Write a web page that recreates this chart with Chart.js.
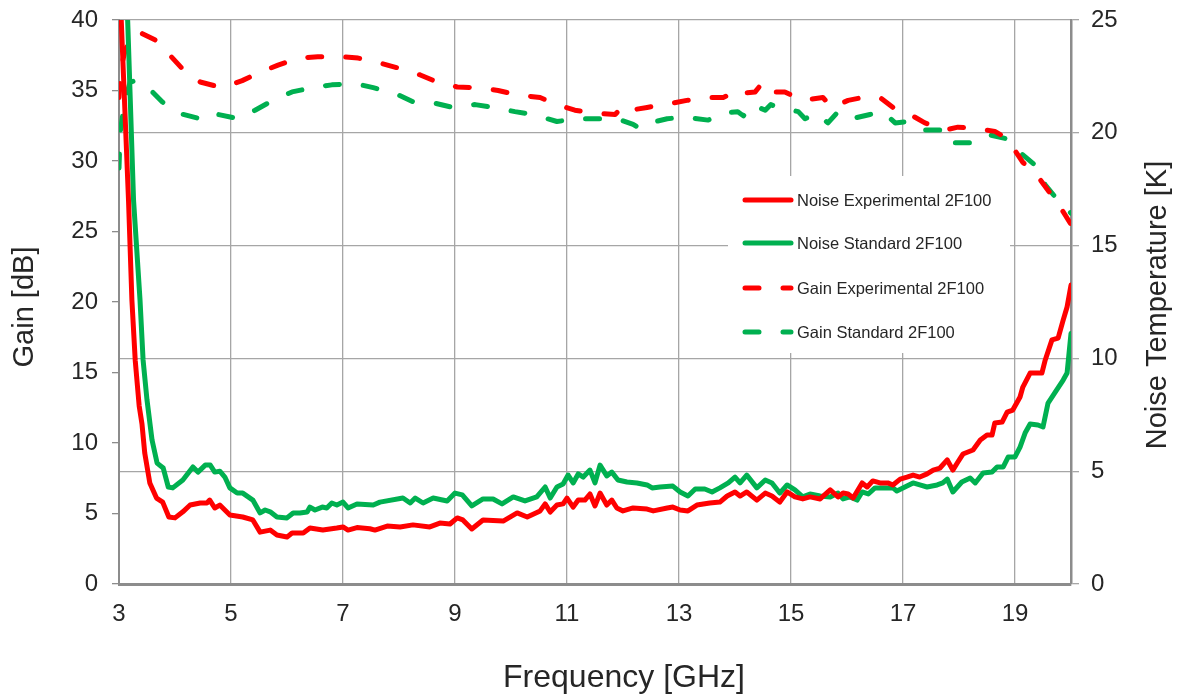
<!DOCTYPE html>
<html lang="en">
<head>
<meta charset="UTF-8">
<title>Gain / Noise Temperature 2F100</title>
<style>
  html, body { margin: 0; padding: 0; background: #fff; }
  #wrap { width: 1179px; height: 696px; }
</style>
</head>
<body>
<div id="wrap"><canvas id="ampChart" width="1179" height="696"></canvas></div>
<script src="https://cdn.jsdelivr.net/npm/chart.js"></script>
<script>
// axis ticks
var freqTicks = [3, 5, 7, 9, 11, 13, 15, 17, 19];
var gainTicks = [0, 5, 10, 15, 20, 25, 30, 35, 40];
var noiseTicks = [0, 5, 10, 15, 20, 25];

var xTitle = 'Frequency [GHz]';
var gainTitle = 'Gain [dB]';
var noiseTitle = 'Noise Temperature [K]';

// Noise Experimental 2F100 [K]
var noiseExpFreq = [3.0, 3.04, 3.17, 3.23, 3.29, 3.36, 3.41, 3.46, 3.55, 3.67,
  3.78, 3.89, 4.0, 4.14, 4.27, 4.45, 4.57, 4.62, 4.71, 4.8,
  4.98, 5.21, 5.39, 5.52, 5.70, 5.82, 6.0, 6.09, 6.29, 6.41,
  6.64, 6.89, 7.0, 7.09, 7.25, 7.48, 7.57, 7.79, 8.02, 8.25,
  8.55, 8.73, 8.91, 9.04, 9.14, 9.30, 9.50, 9.86, 10.11, 10.29,
  10.52, 10.61, 10.70, 10.82, 10.93, 11.0, 11.11, 11.20, 11.32, 11.41,
  11.5, 11.59, 11.71, 11.80, 11.89, 12.0, 12.18, 12.43, 12.54, 12.79,
  12.89, 13.02, 13.16, 13.32, 13.55, 13.73, 13.86, 14.0, 14.09, 14.21,
  14.39, 14.54, 14.66, 14.80, 14.93, 15.07, 15.21, 15.34, 15.52, 15.70,
  15.84, 15.93, 16.02, 16.11, 16.27, 16.36, 16.46, 16.59, 16.73, 16.82,
  16.95, 17.07, 17.18, 17.30, 17.43, 17.54, 17.66, 17.79, 17.89, 17.98,
  18.07, 18.25, 18.38, 18.50, 18.59, 18.64, 18.77, 18.86, 18.96, 19.09,
  19.14, 19.27, 19.48, 19.54, 19.66, 19.77, 19.86, 19.93, 20.0];
var noiseExpK = [28.0, 25.0, 17.0, 12.6, 9.9, 7.9, 7.1, 5.8, 4.48, 3.81,
  3.63, 2.97, 2.93, 3.2, 3.5, 3.59, 3.59, 3.72, 3.37, 3.5,
  3.06, 2.97, 2.84, 2.30, 2.39, 2.17, 2.08, 2.26, 2.26, 2.48,
  2.39, 2.48, 2.53, 2.39, 2.5, 2.45, 2.39, 2.57, 2.53, 2.62,
  2.53, 2.70, 2.66, 2.93, 2.84, 2.44, 2.84, 2.79, 3.15, 2.97,
  3.24, 3.55, 3.19, 3.50, 3.55, 3.81, 3.41, 3.72, 3.72, 3.99,
  3.46, 4.03, 3.50, 3.72, 3.37, 3.24, 3.37, 3.32, 3.24, 3.37,
  3.41, 3.28, 3.24, 3.50, 3.59, 3.63, 3.90, 4.08, 3.90, 4.08,
  3.72, 4.03, 3.90, 3.63, 4.08, 3.86, 3.77, 3.86, 3.77, 4.17,
  3.86, 4.03, 3.99, 3.81, 4.48, 4.30, 4.57, 4.48, 4.48, 4.39,
  4.65, 4.74, 4.83, 4.74, 4.88, 5.05, 5.14, 5.50, 5.05, 5.41,
  5.76, 5.94, 6.38, 6.60, 6.60, 7.14, 7.18, 7.62, 7.71, 8.29,
  8.73, 9.35, 9.35, 9.93, 10.82, 10.90, 11.70, 12.28, 13.25];

// Noise Standard 2F100 [K]
var noiseStdFreq = [3.0, 3.16, 3.26, 3.375, 3.43, 3.5, 3.59, 3.68, 3.79, 3.88,
  3.96, 4.14, 4.32, 4.41, 4.54, 4.63, 4.71, 4.80, 4.89, 4.98,
  5.11, 5.21, 5.39, 5.52, 5.61, 5.70, 5.82, 6.0, 6.11, 6.23,
  6.36, 6.41, 6.5, 6.63, 6.71, 6.8, 6.89, 7.0, 7.09, 7.25,
  7.54, 7.66, 8.07, 8.2, 8.29, 8.43, 8.61, 8.86, 9.0, 9.13,
  9.30, 9.5, 9.68, 9.84, 10.04, 10.25, 10.46, 10.61, 10.7, 10.82,
  10.93, 11.02, 11.11, 11.20, 11.29, 11.41, 11.5, 11.59, 11.71, 11.80,
  11.91, 12.07, 12.25, 12.43, 12.52, 12.66, 12.89, 13.02, 13.16, 13.29,
  13.46, 13.59, 13.73, 13.88, 14.0, 14.09, 14.21, 14.39, 14.54, 14.66,
  14.80, 14.93, 15.07, 15.21, 15.34, 15.52, 15.70, 15.84, 15.93, 16.05,
  16.18, 16.27, 16.38, 16.5, 16.64, 16.82, 16.89, 17.07, 17.18, 17.30,
  17.43, 17.61, 17.71, 17.79, 17.89, 18.05, 18.2, 18.29, 18.43, 18.59,
  18.68, 18.79, 18.88, 19.0, 19.09, 19.18, 19.27, 19.41, 19.5, 19.59,
  19.71, 19.86, 19.93, 20.0];
var noiseStdK = [36.0, 24.6, 17.0, 12.6, 9.93, 8.16, 6.38, 5.36, 5.14, 4.30,
  4.26, 4.61, 5.19, 4.96, 5.27, 5.27, 4.96, 5.0, 4.74, 4.26,
  4.03, 4.03, 3.72, 3.15, 3.28, 3.2, 2.97, 2.93, 3.15, 3.15,
  3.19, 3.41, 3.28, 3.41, 3.37, 3.59, 3.5, 3.63, 3.37, 3.55,
  3.5, 3.63, 3.81, 3.59, 3.81, 3.59, 3.81, 3.68, 4.03, 3.95,
  3.46, 3.77, 3.77, 3.55, 3.86, 3.68, 3.86, 4.30, 3.81, 4.30,
  4.43, 4.83, 4.48, 4.88, 4.74, 5.05, 4.48, 5.27, 4.79, 4.96,
  4.61, 4.52, 4.48, 4.39, 4.26, 4.30, 4.34, 4.08, 3.90, 4.21,
  4.21, 4.08, 4.26, 4.48, 4.74, 4.48, 4.83, 4.26, 4.61, 4.48,
  4.03, 4.39, 4.17, 3.86, 3.99, 3.90, 3.86, 4.03, 3.77, 3.86,
  3.72, 4.08, 3.99, 4.26, 4.26, 4.26, 4.12, 4.34, 4.48, 4.39,
  4.30, 4.39, 4.48, 4.65, 4.08, 4.52, 4.70, 4.48, 4.92, 4.96,
  5.19, 5.19, 5.63, 5.63, 6.07, 6.69, 7.09, 7.05, 6.96, 8.02,
  8.47, 9.04, 9.35, 11.1];

// Gain Experimental 2F100 [dB]
var gainExpFreq = [3.0, 3.04, 3.11, 3.33, 3.64, 3.91, 4.14, 4.45, 4.84, 5.2,
  5.52, 5.84, 6.2, 6.55, 6.95, 7.27, 7.66, 7.98, 8.38, 8.68,
  9.04, 9.39, 9.77, 10.1, 10.52, 10.82, 11.14, 11.46, 11.86, 12.0,
  12.13, 12.43, 12.75, 13.14, 13.5, 13.79, 13.95, 14.05, 14.1, 14.36,
  14.48, 14.57, 14.89, 15.2, 15.57, 15.73, 16.02, 16.27, 16.59, 16.82,
  17.13, 17.39, 17.75, 17.98, 18.32, 18.64, 18.86, 19.14, 19.39, 19.63,
  19.86, 20.0];
var gainExpDb = [34.5, 36.6, 37.9, 39.2, 38.6, 37.5, 36.5, 35.6, 35.2, 35.7,
  36.3, 36.8, 37.3, 37.4, 37.4, 37.3, 36.95, 36.6, 36.1, 35.6,
  35.25, 35.2, 35.0, 34.7, 34.5, 34.0, 33.6, 33.4, 33.3, 33.9,
  33.6, 33.8, 34.0, 34.3, 34.5, 34.5, 34.8, 34.6, 34.8, 34.9,
  35.5, 34.9, 34.9, 34.3, 34.5, 33.8, 34.3, 34.5, 34.5, 33.8,
  33.3, 32.7, 32.2, 32.4, 32.3, 32.1, 31.6, 29.9, 29.0, 27.7,
  26.4, 25.5];

// Gain Standard 2F100 [dB]
var gainStdFreq = [3.0, 3.02, 3.1, 3.2, 3.3, 3.5, 3.77, 4.05, 4.45, 4.62,
  4.77, 5.13, 5.43, 5.75, 6.09, 6.45, 6.8, 7.21, 7.54, 7.93,
  8.25, 8.64, 8.96, 9.36, 9.68, 10.07, 10.39, 10.82, 11.18, 11.55,
  11.89, 12.18, 12.3, 12.48, 12.79, 13.11, 13.52, 13.77, 14.05, 14.15,
  14.3, 14.54, 14.64, 14.77, 15.13, 15.25, 15.46, 15.66, 15.84, 16.09,
  16.41, 16.64, 16.86, 17.09, 17.36, 17.7, 17.8, 18.2, 18.5, 18.82,
  19.09, 19.36, 19.54, 19.77, 20.0];
var gainStdDb = [29.5, 32.0, 34.2, 35.6, 35.7, 35.3, 34.2, 33.4, 33.0, 32.9,
  33.3, 33.0, 33.6, 34.3, 34.9, 35.2, 35.4, 35.5, 35.2, 34.8,
  34.2, 34.1, 33.8, 34.0, 33.8, 33.5, 33.3, 32.8, 33.0, 33.0,
  33.0, 32.6, 32.3, 32.7, 33.0, 33.1, 32.9, 33.4, 33.5, 33.2,
  34.0, 33.6, 34.0, 33.8, 33.5, 33.0, 33.4, 32.7, 33.5, 33.0,
  33.3, 33.5, 32.7, 32.8, 32.2, 32.2, 31.3, 31.3, 31.9, 31.6,
  30.6, 29.7, 28.3, 27.2, 26.3];

var RED = '#ff0000';
var GREEN = '#00b050';
var TEXT = '#262626';
var FONT = '"Liberation Sans", Arial, sans-serif';

function toPoints(xs, ys) {
  return xs.map(function (x, i) { return { x: x, y: ys[i] }; });
}

function lineSet(label, xs, ys, color, axis, dash) {
  return {
    label: label,
    data: toPoints(xs, ys),
    yAxisID: axis,
    borderColor: color,
    backgroundColor: color,
    borderWidth: 5,
    borderDash: dash,
    borderCapStyle: 'round',
    borderJoinStyle: 'round',
    pointRadius: 0,
    tension: 0,
    fill: false
  };
}

// fixed sizes for the axis boxes so the plot area lands where wanted
function fitY(width) {
  return function (s) {
    s.width = width;
    s.paddingTop = 0;
    s.paddingBottom = 0;
  };
}

// legend drawn inside the plot on a white box
var boxLegend = {
  id: 'boxLegend',
  afterDatasetsDraw: function (chart) {
    var ctx = chart.ctx;
    var rows = [200, 243, 288, 332];
    ctx.save();
    ctx.fillStyle = '#fff';
    ctx.fillRect(728, 176, 282, 177);
    ctx.font = '16.5px ' + FONT;
    ctx.textBaseline = 'middle';
    chart.data.datasets.forEach(function (ds, i) {
      var y = rows[i];
      ctx.beginPath();
      ctx.strokeStyle = ds.borderColor;
      ctx.lineWidth = ds.borderWidth;
      ctx.lineCap = 'round';
      ctx.setLineDash(ds.borderDash);
      ctx.moveTo(745, y);
      ctx.lineTo(791, y);
      ctx.stroke();
      ctx.setLineDash([]);
      ctx.fillStyle = TEXT;
      ctx.fillText(ds.label, 797, y + 1);
    });
    ctx.restore();
  }
};

// axis titles (both y titles read bottom to top)
var axisTitles = {
  id: 'axisTitles',
  afterDraw: function (chart) {
    var ctx = chart.ctx;
    ctx.save();
    ctx.fillStyle = TEXT;
    ctx.textAlign = 'center';
    ctx.textBaseline = 'middle';
    ctx.font = '32px ' + FONT;
    ctx.fillText(xTitle, 624, 678);
    ctx.font = '29px ' + FONT;
    [[gainTitle, 25, 307], [noiseTitle, 1158, 305]].forEach(function (t) {
      ctx.save();
      ctx.translate(t[1], t[2]);
      ctx.rotate(-Math.PI / 2);
      ctx.fillText(t[0], 0, 0);
      ctx.restore();
    });
    ctx.restore();
  }
};

var chart = new Chart(document.getElementById('ampChart'), {
  type: 'line',
  data: {
    datasets: [
      lineSet('Noise Experimental 2F100', noiseExpFreq, noiseExpK, RED, 'yNoise', []),
      lineSet('Noise Standard 2F100', noiseStdFreq, noiseStdK, GREEN, 'yNoise', []),
      lineSet('Gain Experimental 2F100', gainExpFreq, gainExpDb, RED, 'yGain', [14, 24]),
      lineSet('Gain Standard 2F100', gainStdFreq, gainStdDb, GREEN, 'yGain', [14, 24])
    ]
  },
  options: {
    responsive: false,
    animation: false,
    layout: { padding: { top: 20, left: 0, right: 0, bottom: 0 } },
    plugins: {
      legend: { display: false },
      tooltip: { enabled: false }
    },
    scales: {
      x: {
        type: 'linear',
        min: 3,
        max: 20,
        afterBuildTicks: function (s) { s.ticks = freqTicks.map(function (v) { return { value: v }; }); },
        afterFit: function (s) { s.height = 112; },
        grid: { color: '#a6a6a6', lineWidth: 1.3, drawTicks: false },
        border: { color: '#8c8c8c', width: 3 },
        ticks: { padding: 16, color: TEXT, font: { family: FONT, size: 24 }, maxRotation: 0, autoSkip: false }
      },
      yGain: {
        position: 'left',
        min: 0,
        max: 40,
        afterBuildTicks: function (s) { s.ticks = gainTicks.map(function (v) { return { value: v }; }); },
        afterFit: fitY(119),
        grid: { drawOnChartArea: false, tickLength: 7, color: '#8c8c8c', lineWidth: 1.3 },
        border: { color: '#8c8c8c', width: 2 },
        ticks: { padding: 14, color: TEXT, font: { family: FONT, size: 24 } }
      },
      yNoise: {
        position: 'right',
        min: 0,
        max: 25,
        afterBuildTicks: function (s) { s.ticks = noiseTicks.map(function (v) { return { value: v }; }); },
        afterFit: fitY(108),
        grid: { color: '#a6a6a6', lineWidth: 1.3, tickLength: 8 },
        border: { color: '#8c8c8c', width: 2.5 },
        ticks: { padding: 12, color: TEXT, font: { family: FONT, size: 24 } }
      }
    }
  },
  plugins: [boxLegend, axisTitles]
});
</script>
</body>
</html>
